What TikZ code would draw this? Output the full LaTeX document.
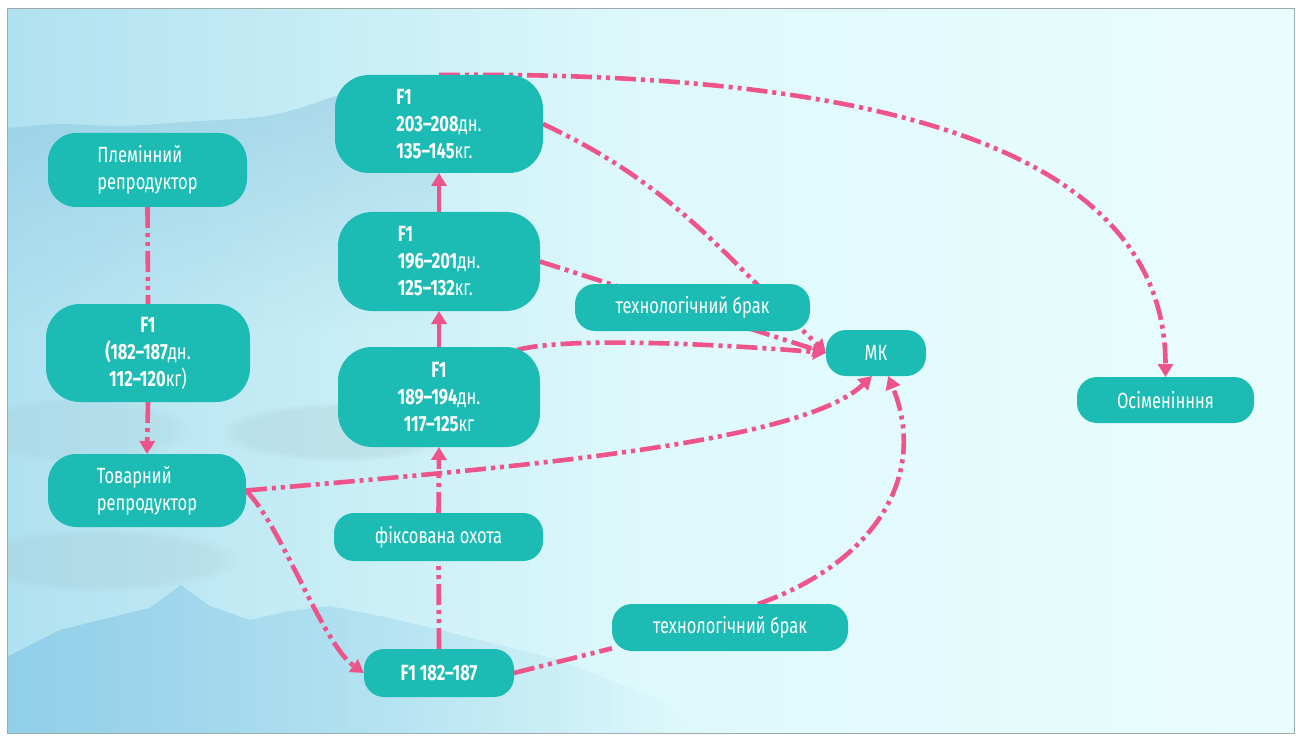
\documentclass[tikz,border=0pt]{standalone}
\usepackage{fontspec}
\setmainfont{Fira Sans}[FakeStretch=0.75]
\usetikzlibrary{arrows.meta,calc,fadings}
\pgfdeclarelayer{scenery}
\pgfdeclarelayer{links}
\pgfsetlayers{scenery,links,main}
\definecolor{nodeteal}{RGB}{28,188,181}
\definecolor{linkpink}{RGB}{238,84,138}
\definecolor{bgleft}{RGB}{176,225,240}
\definecolor{bgmid}{RGB}{222,249,251}
\definecolor{bgright}{RGB}{234,253,253}
\definecolor{ridgeblue}{RGB}{120,185,215}
\definecolor{mtnblue}{RGB}{125,195,228}
\definecolor{mistgray}{RGB}{150,175,185}
\definecolor{framegray}{RGB}{160,170,170}
\tikzfading[name=fadedown, top color=transparent!0, bottom color=transparent!100]
\tikzfading[name=faderight, left color=transparent!0, right color=transparent!100]
\begin{document}
\begin{tikzpicture}[x=1pt,y=1pt,
  box/.style={fill=nodeteal, text=white, inner sep=0pt, outer sep=0pt,
    font=\fontsize{22}{27}\selectfont},
  tallbox/.style={box, rounded corners=34pt},
  midbox/.style={box, rounded corners=28pt},
  pillbox/.style={box, rounded corners=20pt},
  link/.style={draw=linkpink, line width=4.6pt,
    dash pattern=on 21pt off 5pt on 4pt off 5pt on 4pt off 5pt},
  solidlink/.style={draw=linkpink, line width=4.6pt},
  arrowend/.style={-{Triangle[width=15pt,length=13pt]}},
]
\useasboundingbox (0,0) rectangle (1296,-738);

% ---------- scenery ----------
\begin{pgfonlayer}{scenery}
\fill[white] (0,0) rectangle (1296,-738);
\shade[left color=bgleft, right color=bgright, middle color=bgmid]
  (7,-9) rectangle (1294,-733);
\begin{scope}
\clip (7,-9) rectangle (1294,-733);
% upper ridge band (right edge hidden behind the F1 column)
\fill[ridgeblue, opacity=0.4, path fading=fadedown]
  plot[smooth] coordinates {(7,-128) (60,-124) (120,-126) (200,-121) (260,-117)
  (300,-108) (340,-95) (400,-84) (439,-80)}
  -- (439,-330) -- (7,-330) -- cycle;
% grey mist patches
\fill[mistgray, opacity=0.18, path fading=circle with fuzzy edge 20 percent]
  (340,-432) ellipse (120 and 30);
\fill[mistgray, opacity=0.15, path fading=circle with fuzzy edge 20 percent]
  (100,-560) ellipse (140 and 32);
\fill[mistgray, opacity=0.12, path fading=circle with fuzzy edge 20 percent]
  (80,-430) ellipse (110 and 34);
% lower mountains
\fill[mtnblue, opacity=0.6, path fading=faderight]
  (7,-657) -- (60,-630) -- (100,-620) -- (150,-608) -- (181,-585) -- (210,-606)
  -- (250,-620) -- (290,-611) -- (330,-606) -- (380,-616) -- (420,-625)
  -- (480,-640) -- (560,-660) -- (660,-700) -- (700,-733) -- (7,-733) -- cycle;
\end{scope}
\draw[framegray, line width=1pt] (7,-9) rectangle (1294,-733);
\end{pgfonlayer}

% ---------- nodes ----------
\node[midbox, minimum width=199pt, minimum height=74pt, align=left] (plem)
  at (147.5,-170) {Племінний\\репродуктор};
\node[tallbox, minimum width=204pt, minimum height=98pt, align=center] (f1a)
  at (148,-353) {\textbf{F1}\\\textbf{(182–187}дн.\\\textbf{112–120}кг)};
\node[midbox, minimum width=198pt, minimum height=73pt, align=left] (tov)
  at (147,-490.5) {Товарний\\репродуктор};
\node[tallbox, minimum width=208pt, minimum height=98pt, align=left] (f203)
  at (439,-124) {\textbf{F1}\\\textbf{203–208}дн.\\\textbf{135–145}кг.};
\node[tallbox, minimum width=202pt, minimum height=99pt, align=left] (f196)
  at (439,-261.5) {\textbf{F1}\\\textbf{196–201}дн.\\\textbf{125–132}кг.};
\node[tallbox, minimum width=202pt, minimum height=100pt, align=center] (f189)
  at (439,-397) {\textbf{F1}\\\textbf{189–194}дн.\\\textbf{117–125}кг};
\node[pillbox, minimum width=209pt, minimum height=48pt] (fix)
  at (438.5,-537) {фіксована охота};
\node[pillbox, minimum width=150pt, minimum height=48pt] (f1c)
  at (439,-673) {\textbf{F1 182–187}};
\node[pillbox, minimum width=235pt, minimum height=47pt] (tb1)
  at (692.5,-307.5) {технологічний брак};
\node[pillbox, minimum width=100pt, minimum height=46pt] (mk)
  at (876,-353) {МК};
\node[pillbox, minimum width=177pt, minimum height=46pt] (osim)
  at (1165.5,-400) {Осіменінння};
\node[pillbox, minimum width=236pt, minimum height=47pt] (tb2)
  at (730,-627.5) {технологічний брак};

% ---------- connectors ----------
\begin{pgfonlayer}{links}
\draw[link] (plem.south) -- (f1a.north);
\draw[link, arrowend] (f1a.south) -- (tov.north);
\draw[link, arrowend] (tov.east) to[out=-45, in=145, looseness=0.6] (f1c.west);
\draw[link, arrowend] (tov.east) .. controls +(254,22) and +(-72,-69) .. (mk.-100);
\draw[link, arrowend] (tb2.40) .. controls +(111,39) and +(42,-104) .. (mk.-62);
\draw[link] (f1c.east) -- (tb2.-170);
\draw[link] (f1c.north) -- (fix.south);
\draw[link, arrowend] (fix.north) -- (f189.south);
\draw[solidlink, arrowend] (f189.north) -- (f196.south);
\draw[solidlink, arrowend] (f196.north) -- (f203.south);
\draw[link, arrowend] (f203.east) to[out=-25, in=136] (mk.west);
\draw[link, arrowend] (f196.east) -- (mk.west);
\draw[link, arrowend] ($(f189.north east)+(-23,-3)$) to[out=15, in=175, looseness=0.5] (mk.west);
\draw[link, arrowend] (f203.north) .. controls +(460,5) and +(0,220) .. (osim.north);
\end{pgfonlayer}
\end{tikzpicture}
\end{document}
